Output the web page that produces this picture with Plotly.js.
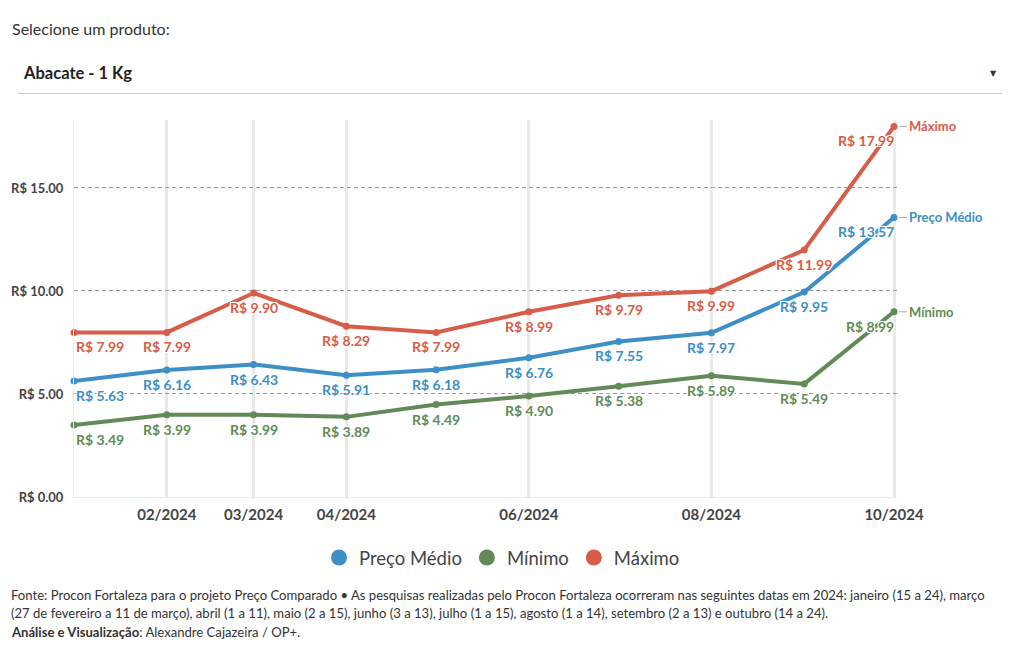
<!DOCTYPE html>
<html>
<head>
<meta charset="utf-8">
<script src="https://cdn.plot.ly/plotly-3.0.1.min.js"></script>
<style>
html,body{margin:0;padding:0;background:#fff;}
#chart{width:1020px;height:650px;}
</style>
</head>
<body>
<div id="chart"></div>
<script>
// ---- data ----
const months = ['2024-01-01','2024-02-01','2024-03-01','2024-04-01','2024-05-01','2024-06-01','2024-07-01','2024-08-01','2024-09-01','2024-10-01'];
const precoMedio = [5.63, 6.16, 6.43, 5.91, 6.18, 6.76, 7.55, 7.97, 9.95, 13.57];
const minimo     = [3.49, 3.99, 3.99, 3.89, 4.49, 4.90, 5.38, 5.89, 5.49, 8.99];
const maximo     = [7.99, 7.99, 9.90, 8.29, 7.99, 8.99, 9.79, 9.99, 11.99, 17.99];
const seriesNames = ['Preço Médio', 'Mínimo', 'Máximo'];
const tickDates = ['2024-02-01','2024-03-01','2024-04-01','2024-06-01','2024-08-01','2024-10-01'];
const tickLabels = ['02/2024','03/2024','04/2024','06/2024','08/2024','10/2024'];
const yTicks = [0, 5, 10, 15];
const produto = 'Abacate - 1 Kg';
const footerLines = [
  'Fonte: Procon Fortaleza para o projeto Preço Comparado • As pesquisas realizadas pelo Procon Fortaleza ocorreram nas seguintes datas em 2024: janeiro (15 a 24), março',
  '(27 de fevereiro a 11 de março), abril (1 a 11), maio (2 a 15), junho (3 a 13), julho (1 a 15), agosto (1 a 14), setembro (2 a 13) e outubro (14 a 24).',
  '<b>Análise e Visualização</b>: Alexandre Cajazeira / OP+.'
];

// ---- style ----
const FONT = 'Lato, "Source Sans Pro", "Open Sans", sans-serif';
const colors = ['#3d8fc6', '#628a58', '#d85d48'];
const seriesData = [precoMedio, minimo, maximo];

const L = 74, W = 823, T = 120, H = 377;
const xp = px => (px - L) / W;
const yp = py => (T + H - py) / H;

const n = months.length;
const halo = '-1px -1px 0 #fff, 1px -1px 0 #fff, -1px 1px 0 #fff, 1px 1px 0 #fff, 0 0 3px #fff';

const traces = [];
seriesData.forEach((ys, k) => {
  traces.push({
    type: 'scatter', mode: 'lines+markers',
    x: months, y: ys, name: seriesNames[k], showlegend: false,
    line: {color: colors[k], width: 4},
    marker: {color: colors[k], size: 7},
    cliponaxis: false,
    hoverinfo: 'skip'
  });
});
// legend entries
seriesData.forEach((ys, k) => {
  traces.push({
    type: 'scatter', mode: 'markers', x: [null], y: [null],
    name: seriesNames[k], showlegend: true,
    marker: {color: colors[k], size: 18, symbol: 'circle'},
    hoverinfo: 'skip'
  });
});

const annotations = [];
// data labels
seriesData.forEach((ys, k) => {
  ys.forEach((v, i) => {
    annotations.push({
      x: months[i], y: v, xref: 'x', yref: 'y',
      text: '<b>R$ ' + v.toFixed(2) + '</b>', showarrow: false,
      xanchor: i === 0 ? 'left' : (i === n - 1 ? 'right' : 'center'),
      xshift: i === n - 1 ? 2 : 0,
      yanchor: 'middle', yshift: -14.5,
      font: {family: FONT, size: 14, color: colors[k], weight: 700, shadow: halo}
    });
  });
});
// series end labels
seriesData.forEach((ys, k) => {
  annotations.push({
    x: months[n - 1], y: ys[n - 1], xref: 'x', yref: 'y',
    text: '<b>' + seriesNames[k] + '</b>', showarrow: true, arrowhead: 0, arrowwidth: 1,
    arrowcolor: '#aaa', ax: 13, ay: 0, xanchor: 'left', yanchor: 'middle',
    standoff: 5,
    font: {family: FONT, size: 13, color: colors[k], weight: 700}
  });
});
annotations.push(
  {xref: 'paper', yref: 'paper', x: xp(10), y: yp(28), xanchor: 'left', yanchor: 'middle',
   text: 'Selecione um produto:', showarrow: false, font: {family: FONT, size: 16, color: '#333'}},
  {xref: 'paper', yref: 'paper', x: xp(21), y: yp(73), xanchor: 'left', yanchor: 'middle',
   text: '<b>' + produto + '</b>', showarrow: false, font: {family: FONT, size: 16.5, color: '#222'}},
  {xref: 'paper', yref: 'paper', x: xp(993), y: yp(73), xanchor: 'center', yanchor: 'middle',
   text: '▼', showarrow: false, font: {family: 'DejaVu Sans', size: 8, color: '#333'}}
);
const footerY = [595, 613, 632];
footerLines.forEach((t, i) => {
  annotations.push({xref: 'paper', yref: 'paper', x: xp(9), y: yp(footerY[i]), xanchor: 'left', yanchor: 'middle',
    align: 'left', text: t, showarrow: false, font: {family: FONT, size: 13.1, color: '#333'}});
});

const layout = {
  width: 1020, height: 650,
  margin: {l: L, r: 1020 - L - W, t: T, b: 650 - T - H, pad: 0},
  paper_bgcolor: '#fff', plot_bgcolor: '#fff',
  font: {family: FONT, color: '#444'},
  xaxis: {
    type: 'date', range: ['2024-01-01', '2024-10-02'],
    tickvals: tickDates, ticktext: tickLabels, tickangle: 0,
    tickfont: {family: FONT, size: 15, color: '#444', weight: 700},
    showgrid: true, gridcolor: '#e9e9e9', gridwidth: 3,
    showline: true, linecolor: '#eaeaea', linewidth: 1,
    ticks: '', ticklabelstandoff: 4, zeroline: false, fixedrange: true, automargin: false
  },
  yaxis: {
    range: [0, 18.3], tickvals: yTicks,
    ticktext: yTicks.map(v => 'R$ ' + v.toFixed(2)),
    tickfont: {family: FONT, size: 13, color: '#444', weight: 700},
    showgrid: true, gridcolor: '#999', gridwidth: 1, griddash: '4px,3px',
    zeroline: true, zerolinecolor: '#e6e6e6', zerolinewidth: 1,
    showline: true, linecolor: '#ececec', linewidth: 1,
    ticks: '', ticklabelstandoff: 7, fixedrange: true, automargin: false
  },
  showlegend: true,
  legend: {
    orientation: 'h', xref: 'paper', x: xp(502), xanchor: 'center',
    yref: 'paper', y: yp(558), yanchor: 'middle',
    font: {family: FONT, size: 18.5, color: '#444'},
    itemwidth: 30, tracegroupgap: 0, bgcolor: 'rgba(0,0,0,0)'
  },
  annotations: annotations,
  shapes: [
    {type: 'line', xref: 'paper', yref: 'paper', x0: xp(18), x1: xp(1002), y0: yp(93.5), y1: yp(93.5),
     line: {color: '#c8c8c8', width: 1}}
  ],
  hovermode: false
};

Plotly.newPlot('chart', traces, layout, {displayModeBar: false, staticPlot: true});
</script>
</body>
</html>
